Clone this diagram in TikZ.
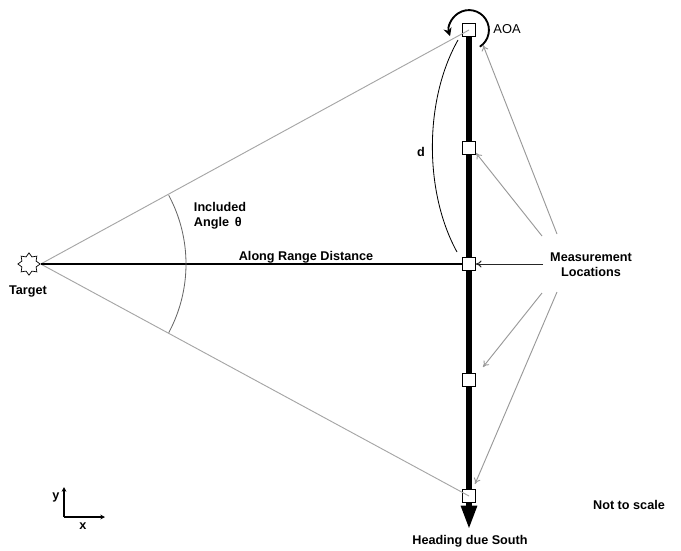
\documentclass[tikz,border=0pt]{standalone}
\usepackage{fontspec}
\setmainfont{Liberation Sans}
\usetikzlibrary{arrows.meta,shapes.geometric,backgrounds}

\tikzset{
    lbl/.style={font=\bfseries\fontsize{10.8}{12.5}\selectfont, inner sep=1pt},
    loc/.style={draw=black, fill=white, line width=1pt, minimum size=10.5pt, inner sep=0pt},
    sight/.style={draw=gray!70, line width=0.8pt},
    pointer/.style={draw=gray!80, line width=0.8pt, -{To[length=5pt,width=6pt]}},
}

\begin{document}
\begin{tikzpicture}[x=0.03cm, y=-0.03cm]
    \useasboundingbox (0,0) rectangle (681,550);

    % Target
    \node[draw, star, star points=8, star point ratio=1.45, minimum size=19pt,
          inner sep=0pt, line width=0.6pt] (tgt) at (29,264) {};
    \node[lbl] (tgtlbl) at (28,291) {Target};

    % Measurement locations
    \node[loc] (m1) at (469,30) {};
    \node[loc] (m2) at (469,148) {};
    \node[loc] (m3) at (469,264) {};
    \node[loc] (m4) at (469,380) {};
    \node[loc] (m5) at (469,496) {};
    \coordinate (head) at (469,529);

    % Heading line
    \begin{scope}[on background layer]
        \draw[line width=4.4pt, -{Triangle[length=20pt,width=13pt]}] (m1.center) -- (head);
    \end{scope}

    % Lines of sight
    \draw[sight] (tgt.east) -- (m1.center);
    \draw[sight] (tgt.east) -- (m5.center);
    \draw[line width=1.2pt] (tgt.east) -- (m3.west);

    % Included angle
    \draw[gray!80!black, line width=0.7pt] (tgt.east) ++(28.2:124pt)
        arc[start angle=28.2, end angle=-28.2, radius=124pt];
    \node[lbl, align=left] (anglbl) at (220,216) {Included\\Angle\, θ};
    \node[lbl] (rnglbl) at (306,257) {Along Range Distance};

    % Distance d
    \coordinate (dtop) at (458,40);
    \coordinate (dbot) at (457,252);
    \draw[line width=0.7pt] (dtop) .. controls (424,100) and (424,192) .. (dbot);
    \node[lbl] (dlbl) at (421,152) {d};

    % AOA
    \draw[line width=1.6pt, -{Stealth[length=7pt,width=7pt]}] (m1.center) ++(-57:17pt)
        arc[start angle=-57, end angle=198, radius=17pt];
    \node[font=\fontsize{11}{12.5}\selectfont, anchor=west, inner sep=1pt] (aoa) at (492,29) {AOA};

    % Measurement label and pointers
    \node[lbl, align=center] (meas) at (591,265) {Measurement\\Locations};
    \coordinate (p1) at (557,234);
    \coordinate (p2) at (542,236);
    \coordinate (p3) at (543,264);
    \coordinate (p4) at (542,293);
    \coordinate (p5) at (557,292);
    \draw[pointer] (p1) -- (483,45);
    \draw[pointer] (p2) -- (476,153);
    \draw[pointer, draw=gray!30!black] (p3) -- (m3.east);
    \draw[pointer] (p4) -- (483,367);
    \draw[pointer] (p5) -- (475,484);

    % Axes
    \coordinate (o) at (64,517);
    \draw[line width=1pt, -{Stealth[length=4pt,width=4pt]}] (o) -- (64,487);
    \draw[line width=1pt, -{Stealth[length=4pt,width=4pt]}] (o) -- (105,517);
    \node[lbl] (ylbl) at (56,497) {y};
    \node[lbl] (xlbl) at (83,526) {x};

    \node[lbl] (scl) at (629,505) {Not to scale};
    \node[lbl] (hdg) at (470,541) {Heading due South};
\end{tikzpicture}
\end{document}
